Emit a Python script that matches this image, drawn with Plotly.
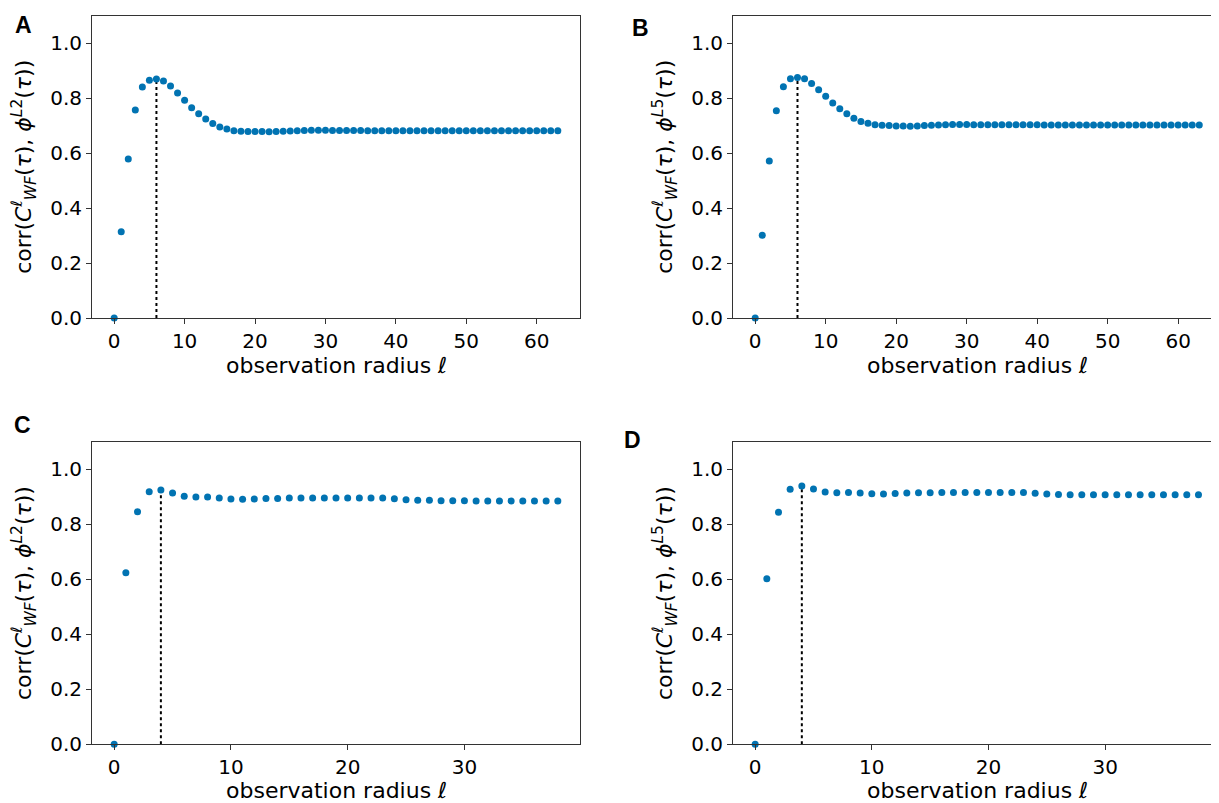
import plotly.graph_objects as go

# ---- data ----
radius_AB = list(range(64))
radius_CD = list(range(39))

corr_A = [0.0, 0.314, 0.578, 0.756, 0.840, 0.865, 0.869, 0.862, 0.844, 0.818,
          0.792, 0.765, 0.743, 0.724, 0.707, 0.695, 0.687, 0.681, 0.679, 0.678,
          0.678, 0.678, 0.677, 0.678, 0.679, 0.680, 0.681, 0.682, 0.683, 0.683,
          0.683, 0.682, 0.682, 0.682, 0.682, 0.682, 0.681, 0.681, 0.681, 0.681,
          0.681, 0.681, 0.681, 0.681, 0.681, 0.681, 0.681, 0.681, 0.681, 0.681,
          0.681, 0.681, 0.681, 0.681, 0.681, 0.681, 0.681, 0.681, 0.681, 0.681,
          0.681, 0.681, 0.681, 0.681]

corr_B = [0.0, 0.301, 0.571, 0.754, 0.841, 0.870, 0.875, 0.870, 0.853, 0.830,
          0.806, 0.782, 0.761, 0.743, 0.726, 0.715, 0.708, 0.703, 0.701, 0.700,
          0.698, 0.698, 0.697, 0.698, 0.700, 0.701, 0.702, 0.703, 0.704, 0.704,
          0.704, 0.703, 0.703, 0.703, 0.703, 0.703, 0.703, 0.703, 0.703, 0.703,
          0.703, 0.702, 0.702, 0.702, 0.702, 0.702, 0.702, 0.702, 0.702, 0.702,
          0.702, 0.702, 0.702, 0.702, 0.702, 0.702, 0.702, 0.702, 0.702, 0.702,
          0.702, 0.702, 0.702, 0.702]

corr_C = [0.0, 0.624, 0.846, 0.918, 0.925, 0.914, 0.902, 0.899, 0.899, 0.896,
          0.892, 0.891, 0.892, 0.894, 0.894, 0.896, 0.896, 0.896, 0.896, 0.896,
          0.896, 0.896, 0.896, 0.896, 0.893, 0.889, 0.887, 0.887, 0.886, 0.886,
          0.886, 0.885, 0.885, 0.885, 0.885, 0.885, 0.885, 0.885, 0.885]

corr_D = [0.0, 0.602, 0.844, 0.927, 0.939, 0.928, 0.917, 0.915, 0.916, 0.914,
          0.911, 0.910, 0.912, 0.914, 0.915, 0.915, 0.916, 0.916, 0.916, 0.916,
          0.916, 0.916, 0.916, 0.916, 0.913, 0.910, 0.908, 0.907, 0.907, 0.907,
          0.907, 0.907, 0.907, 0.907, 0.907, 0.907, 0.907, 0.907, 0.907]

panel_letters = ["A", "B", "C", "D"]
phi_labels = ["L2", "L5", "L2", "L5"]
x_ticks_AB = [0, 10, 20, 30, 40, 50, 60]
x_ticks_CD = [0, 10, 20, 30]
y_ticks = [0.0, 0.2, 0.4, 0.6, 0.8, 1.0]

# ---- layout geometry (screen pixels; page body has an 8px margin) ----
OFF = 8
W, H = 1219 - OFF, 803 - OFF


def px(x):
    return (x - OFF) / W


def py(y):
    return 1 - (y - OFF) / H


panels = [
    # (x, y, left, right, top, bottom, xrange, xticks)
    (radius_AB, corr_A, 92, 580, 15.5, 318, [-3.15, 66.15], x_ticks_AB),
    (radius_AB, corr_B, 733, 1219, 15.5, 318, [-3.15, 65.8], x_ticks_AB),
    (radius_CD, corr_C, 92, 580, 441.8, 744.3, [-1.9, 39.9], x_ticks_CD),
    (radius_CD, corr_D, 733, 1219, 441.8, 744.3, [-1.9, 39.76], x_ticks_CD),
]

BLUE = "#0173B2"
FONT = "DejaVu Sans"

fig = go.Figure()
annotations = []

letter_pos = [(23, 25), (640, 28), (22, 425), (632, 440)]

for i, (xs, ys, xl, xr, yt, yb, xrng, xt) in enumerate(panels):
    n = i + 1
    xa = "x" if n == 1 else f"x{n}"
    ya = "y" if n == 1 else f"y{n}"
    peak_idx = max(range(len(ys)), key=lambda k: ys[k])
    fig.add_trace(go.Scatter(
        x=[xs[peak_idx], xs[peak_idx]], y=[0, ys[peak_idx]],
        mode="lines", line=dict(color="black", width=2, dash="dot"),
        xaxis=xa, yaxis=ya, showlegend=False, hoverinfo="skip"))
    fig.add_trace(go.Scatter(
        x=xs, y=ys, mode="markers",
        marker=dict(color=BLUE, size=7, line=dict(width=0)),
        xaxis=xa, yaxis=ya, showlegend=False, cliponaxis=False))

    right_cut = xr >= 1219
    xkey = "xaxis" if n == 1 else f"xaxis{n}"
    ykey = "yaxis" if n == 1 else f"yaxis{n}"
    fig.update_layout(**{
        xkey: dict(
            domain=[px(xl), min(1.0, px(xr))], range=xrng, anchor=ya,
            tickvals=xt, ticks="outside", ticklen=5, tickwidth=1,
            tickcolor="#333", showline=True, linecolor="#333", linewidth=1,
            mirror=True, showgrid=False, zeroline=False,
            tickfont=dict(family=FONT, size=20, color="black"),
            automargin=False),
        ykey: dict(
            domain=[py(yb), py(yt)], range=[0, 1.1], anchor=xa,
            tickvals=y_ticks, tickformat=".1f", ticks="outside", ticklen=5,
            tickwidth=1, tickcolor="#333", showline=True, linecolor="#333",
            linewidth=1, mirror=(not right_cut), showgrid=False,
            zeroline=False,
            tickfont=dict(family=FONT, size=20, color="black"),
            automargin=False),
    })

    # x-axis title
    xc = (xl + xr) / 2 if not right_cut else 977
    xt_y = 365 if i < 2 else 790
    annotations.append(dict(
        text="observation radius <i>ℓ</i>", xref="paper", yref="paper",
        x=px(xc), y=py(xt_y), xanchor="center", yanchor="middle",
        showarrow=False, font=dict(family=FONT, size=22, color="black")))
    # y-axis title
    yl_x = 24 if xl < 300 else 665
    annotations.append(dict(
        text=("corr(<i>C</i><sup><i>ℓ</i></sup><sub><i>WF</i></sub>(<i>τ</i>), "
              f"<i>ϕ</i><sup><i>{phi_labels[i][0]}</i>{phi_labels[i][1:]}</sup>(<i>τ</i>))"),
        xref="paper", yref="paper", x=px(yl_x), y=py((yt + yb) / 2),
        xanchor="center", yanchor="middle", textangle=-90, showarrow=False,
        font=dict(family=FONT, size=22, color="black")))
    # panel letter
    lx, ly = letter_pos[i]
    annotations.append(dict(
        text=f"<b>{panel_letters[i]}</b>", xref="paper", yref="paper",
        x=px(lx), y=py(ly), xanchor="center", yanchor="middle",
        showarrow=False,
        font=dict(family="Liberation Sans", size=23, color="black")))

fig.update_layout(
    width=W, height=H, margin=dict(l=0, r=0, t=0, b=0),
    paper_bgcolor="white", plot_bgcolor="white",
    annotations=annotations, showlegend=False)

fig.write_html("out.html")
